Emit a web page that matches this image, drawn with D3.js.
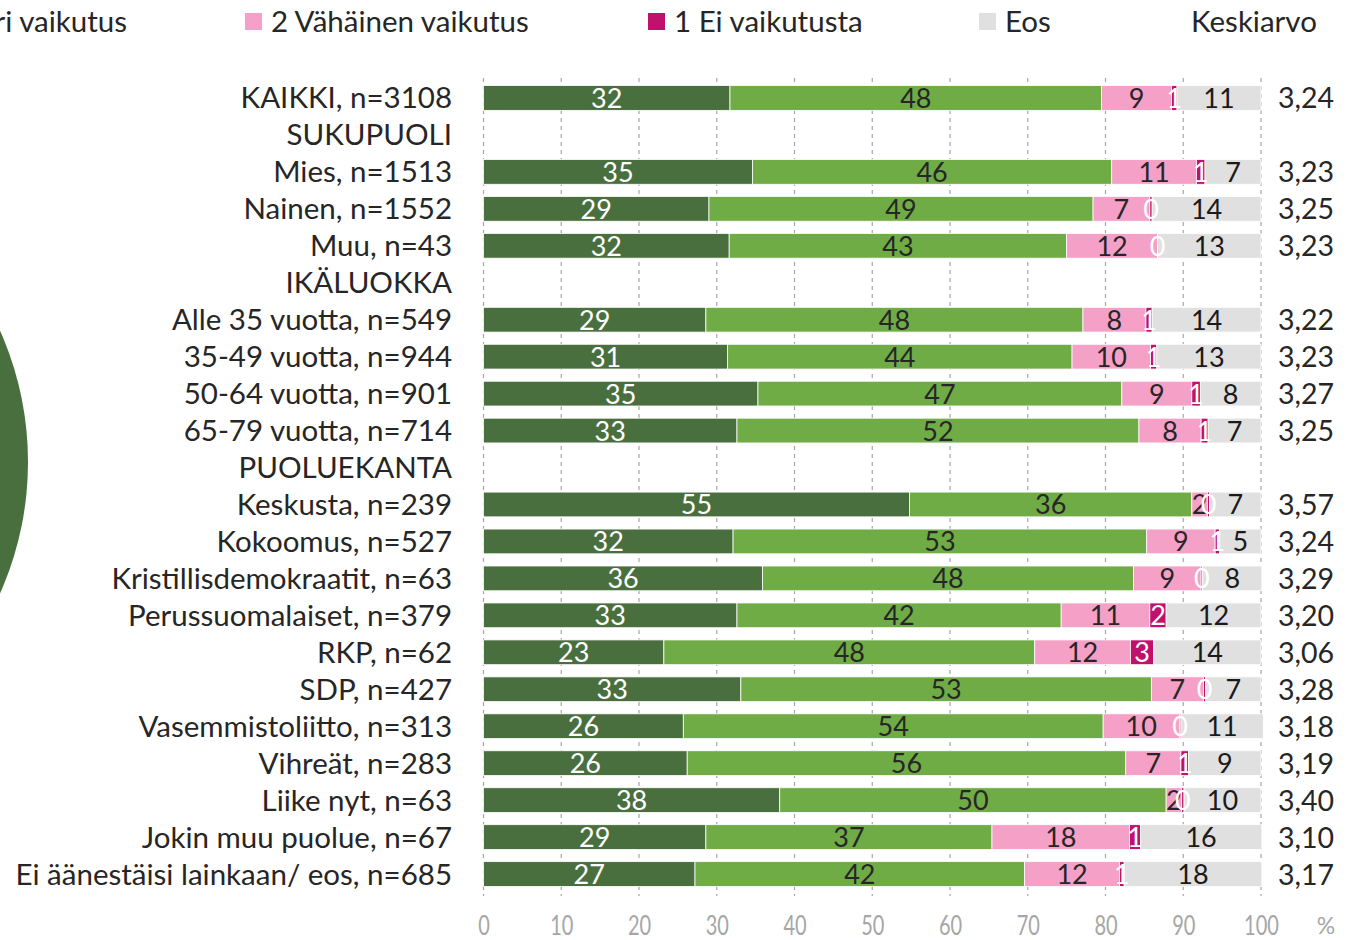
<!DOCTYPE html>
<html>
<head>
<meta charset="utf-8">
<script src="https://cdn.jsdelivr.net/npm/d3@7"></script>
<style>
  html, body { margin: 0; padding: 0; background: #fff; }
  svg { display: block; font-family: Lato, "Open Sans", sans-serif; }
</style>
</head>
<body>
<svg id="chart" width="1348" height="940"></svg>
<script>
// ---- data ----
const categories = [
  "KAIKKI, n=3108", "SUKUPUOLI", "Mies, n=1513", "Nainen, n=1552", "Muu, n=43",
  "IKÄLUOKKA", "Alle 35 vuotta, n=549", "35-49 vuotta, n=944", "50-64 vuotta, n=901",
  "65-79 vuotta, n=714", "PUOLUEKANTA", "Keskusta, n=239", "Kokoomus, n=527",
  "Kristillisdemokraatit, n=63", "Perussuomalaiset, n=379", "RKP, n=62", "SDP, n=427",
  "Vasemmistoliitto, n=313", "Vihreät, n=283", "Liike nyt, n=63", "Jokin muu puolue, n=67",
  "Ei äänestäisi lainkaan/ eos, n=685"
];
const seriesNames = ["4 Erittäin suuri vaikutus", "3 Suuri vaikutus", "2 Vähäinen vaikutus", "1 Ei vaikutusta", "Eos"];
const s4  = [31.7, null, 34.6, 29.0, 31.6, null, 28.6, 31.4, 35.3, 32.6, null, 54.8, 32.1, 35.9, 32.6, 23.2, 33.1, 25.7, 26.2, 38.1, 28.6, 27.2];
const s3  = [47.8, null, 46.2, 49.4, 43.4, null, 48.5, 44.3, 46.8, 51.7, null, 36.3, 53.2, 47.7, 41.7, 47.7, 52.8, 54.0, 56.4, 49.7, 36.8, 42.4];
const s2  = [9.0,  null, 10.9, 7.3,  11.7, null, 8.1,  10.1, 9.0,  8.0,  null, 2.0,  8.8,  8.7,  11.4, 12.3, 6.7,  9.8,  7.1,  2.0,  17.7, 12.2];
const s1  = [0.7,  null, 1.1,  0.3,  0.0,  null, 0.8,  0.8,  1.1,  0.9,  null, 0.3,  0.6,  0.2,  2.1,  3.0,  0.3,  0.2,  1.0,  0.3,  1.4,  0.6];
const eos = [10.8, null, 7.2,  14.0, 13.3, null, 14.0, 13.4, 7.8,  6.8,  null, 6.6,  5.3,  7.6,  12.2, 13.8, 7.1,  10.6, 9.3,  9.9,  15.6, 17.7];
const means = ["3,24", "", "3,23", "3,25", "3,23", "", "3,22", "3,23", "3,27", "3,25", "",
  "3,57", "3,24", "3,29", "3,20", "3,06", "3,28", "3,18", "3,19", "3,40", "3,10", "3,17"];
const xTicks = [0, 10, 20, 30, 40, 50, 60, 70, 80, 90, 100];

const colors = ["#4a6f3f", "#70ac46", "#f4a0c7", "#c0116c", "#e0e0e0"];
const labelColors = ["#ffffff", "#262626", "#262626", "#ffffff", "#1a1a1a"];

// ---- build ----
const svg = d3.select("#chart");
const x = d3.scaleLinear().domain([0, 100]).range([483.5, 1261]);
const y = d3.scaleBand().domain(categories).range([79.5, 892.5]).paddingInner(0.33).paddingOuter(0.165);

// decorative cropped circle at left
svg.append("circle").attr("cx", -295).attr("cy", 462).attr("r", 323).attr("fill", colors[0]);

// gridlines
svg.append("g").selectAll("line").data(xTicks).join("line")
  .attr("x1", d => x(d)).attr("x2", d => x(d))
  .attr("y1", 78).attr("y2", 896)
  .attr("stroke", "#a6a6a6").attr("stroke-width", 1.2).attr("stroke-dasharray", "4,4");

// stacked data
const rows = categories.map((c, i) => ({ cat: c, vals: [s4[i], s3[i], s2[i], s1[i], eos[i]] }))
  .filter(r => r.vals[0] !== null);
const table = rows.map(r => {
  const o = { cat: r.cat };
  seriesNames.forEach((k, j) => o[k] = r.vals[j]);
  return o;
});
const stack = d3.stack().keys(seriesNames)(table);

const gBars = svg.append("g");
stack.forEach((layer, j) => {
  gBars.append("g").selectAll("rect").data(layer).join("rect")
    .attr("x", d => x(d[0]))
    .attr("y", d => y(d.data.cat))
    .attr("width", d => Math.max(0, x(d[1]) - x(d[0])))
    .attr("height", y.bandwidth())
    .attr("fill", colors[j])
    .attr("stroke", "#ffffff").attr("stroke-width", 0.8);
});
stack.forEach((layer, j) => {
  gBars.append("g").selectAll("text").data(layer).join("text")
    .attr("x", d => (x(d[0]) + x(d[1])) / 2)
    .attr("y", d => y(d.data.cat) + y.bandwidth() / 2 + 10)
    .attr("text-anchor", "middle")
    .attr("font-size", 27)
    .attr("fill", labelColors[j])
    .text(d => Math.round(d[1] - d[0]));
});

// category labels
svg.append("g").selectAll("text").data(categories).join("text")
  .attr("x", 452).attr("y", d => y(d) + y.bandwidth() / 2 + 10.5)
  .attr("text-anchor", "end").attr("font-size", 29.5).attr("fill", "#262626")
  .text(d => d);

// means
svg.append("g").selectAll("text").data(categories).join("text")
  .attr("x", 1306).attr("y", d => y(d) + y.bandwidth() / 2 + 10.5)
  .attr("text-anchor", "middle").attr("font-size", 28.5).attr("fill", "#262626")
  .text((d, i) => means[i]);

// x axis tick labels
const axisG = svg.append("g").attr("transform", "translate(0,935)")
  .call(d3.axisBottom(x).tickValues(xTicks).tickSize(0).tickPadding(0).tickFormat(d3.format("d")));
axisG.select(".domain").remove();
axisG.selectAll(".tick text")
  .attr("dy", 0).attr("y", 0).attr("font-size", 25).attr("fill", "#a6a6a6")
  .attr("font-family", "Lato, sans-serif").attr("text-anchor", "middle")
  .attr("transform", "scale(0.8,1.05)");
svg.append("text").attr("x", 1326).attr("y", 934).attr("text-anchor", "middle")
  .attr("font-size", 23).attr("fill", "#a6a6a6").text("%");

// legend
const legendY = 21;
const legend = [
  { name: seriesNames[1], sq: null, textEnd: 127, color: colors[1] },
  { name: seriesNames[2], sq: 245, color: colors[2] },
  { name: seriesNames[3], sq: 648, color: colors[3] },
  { name: seriesNames[4], sq: 979, color: colors[4] }
];
const lg = svg.append("g");
legend.forEach(l => {
  if (l.sq === null) {
    lg.append("text").attr("x", l.textEnd).attr("y", legendY + 10.5).attr("text-anchor", "end")
      .attr("font-size", 29.5).attr("fill", "#262626").text(l.name);
  } else {
    lg.append("rect").attr("x", l.sq).attr("y", legendY - 8).attr("width", 17).attr("height", 17).attr("fill", l.color);
    lg.append("text").attr("x", l.sq + 26).attr("y", legendY + 10.5)
      .attr("font-size", 29.5).attr("fill", "#262626").text(l.name);
  }
});
lg.append("text").attr("x", 1254).attr("y", legendY + 10.5).attr("text-anchor", "middle")
  .attr("font-size", 29.5).attr("fill", "#262626").text("Keskiarvo");
</script>
</body>
</html>
